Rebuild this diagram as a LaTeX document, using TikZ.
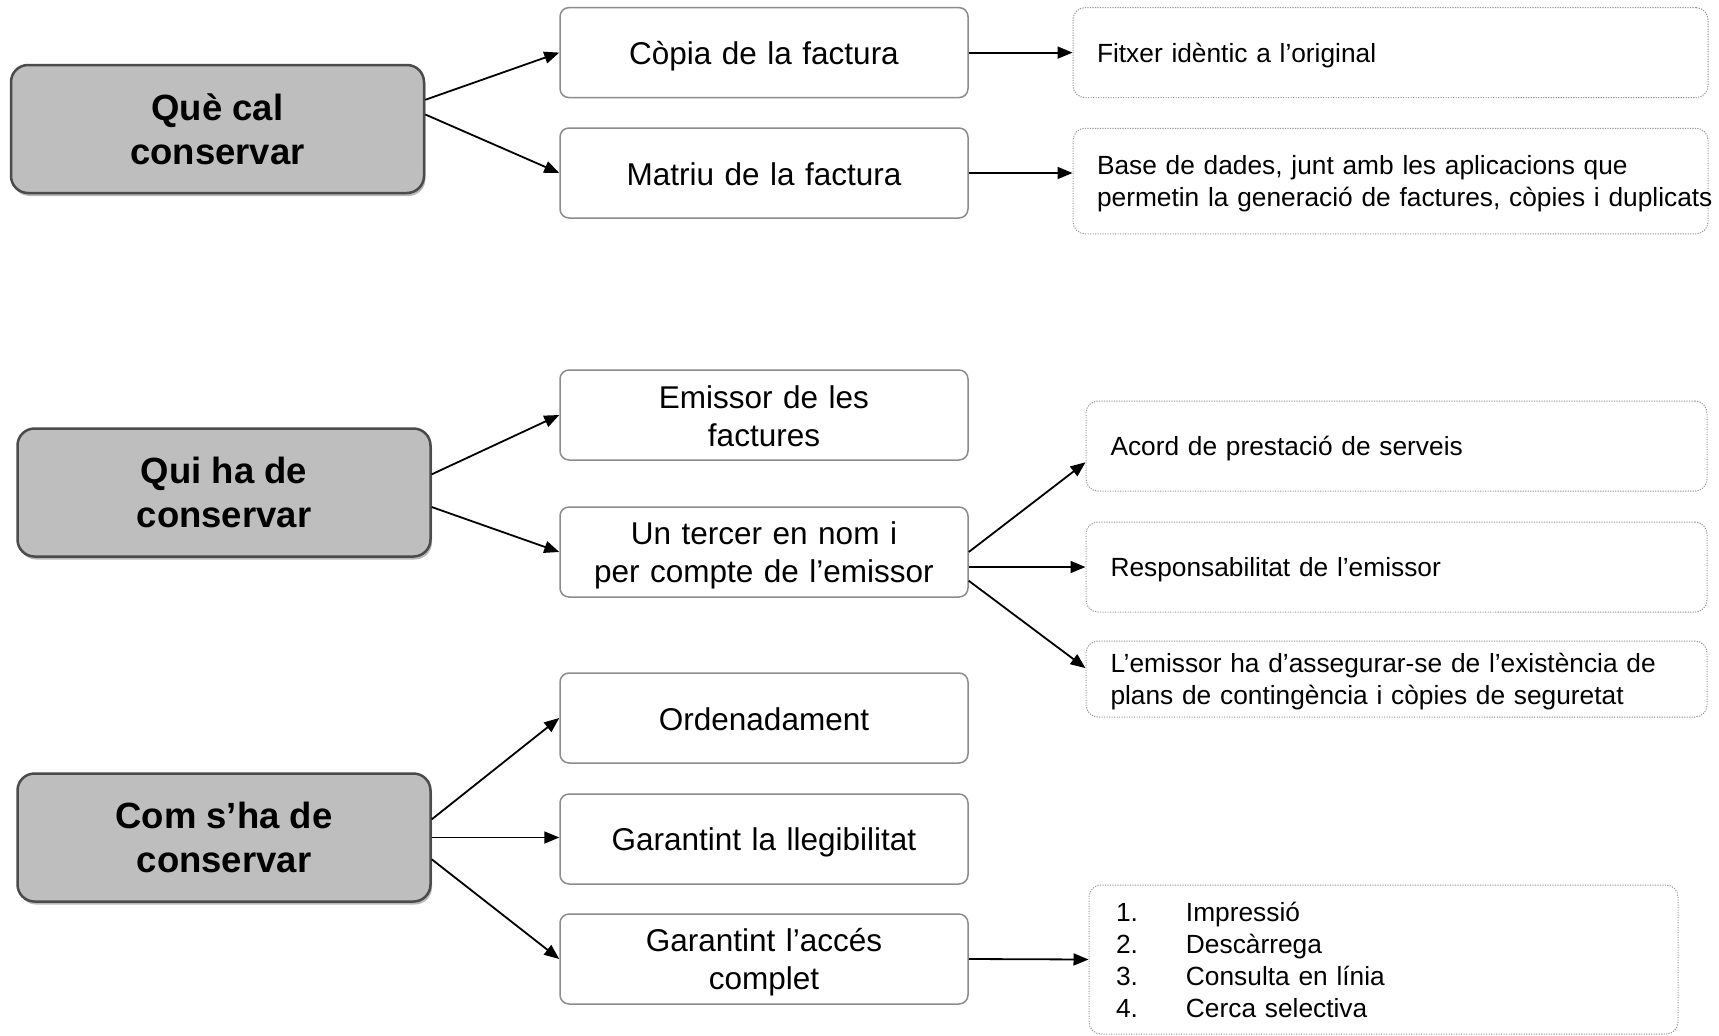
\documentclass[tikz,border=0pt]{standalone}
\usepackage{fontspec}
\setmainfont{Liberation Sans}
\usetikzlibrary{arrows.meta,shadows}

\definecolor{keyfill}{RGB}{190,190,190}
\definecolor{keyedge}{RGB}{75,75,75}
\definecolor{midedge}{RGB}{140,140,140}
\definecolor{dotedge}{RGB}{150,150,150}

\begin{document}
\begin{tikzpicture}[x=1pt,y=-1pt,
    key/.style={draw=keyedge, line width=2.5pt, fill=keyfill, rounded corners=17pt,
      minimum width=413pt, minimum height=128pt, align=center,
      font=\fontsize{36.5}{44}\selectfont\bfseries,
      drop shadow={shadow xshift=1.5pt, shadow yshift=-3pt, fill=black!55}},
    item/.style={draw=midedge, line width=1.5pt, fill=white, rounded corners=9pt,
      minimum width=408pt, minimum height=90pt, text width=380pt, align=center,
      font=\fontsize{31.5}{38.4}\selectfont,
      execute at begin node={\rule{0pt}{30pt}},
      execute at end node={\rule[-5.2pt]{0pt}{5.2pt}}},
    note/.style={draw=dotedge, line width=1pt, dash pattern=on 1.2pt off 1.3pt,
      rounded corners=12pt, minimum height=90pt, inner xsep=0pt, align=left,
      font=\fontsize{26.3}{31.8}\selectfont,
      execute at begin node={\rule{0pt}{25pt}},
      execute at end node={\rule[-4.8pt]{0pt}{4.8pt}}},
    link/.style={line width=1.8pt, -{Triangle[length=15pt,width=12pt]}}]
  \useasboundingbox (0,0) rectangle (1719,1036);

  \node[key] (what) at (217.5,129) {Què cal\\conservar};
  \node[key] (who) at (224,492.5) {Qui ha de\\conservar};
  \node[key] (how) at (224,837.5) {Com s’ha de\\conservar};

  \node[item] (copy) at (764,52.6) {Còpia de la factura};
  \node[item] (stub) at (764,173) {Matriu de la factura};
  \node[item] (issuer) at (764,415) {Emissor de les\\factures};
  \node[item] (third) at (764,552) {Un tercer en nom i\\per compte de l’emissor};
  \node[item] (order) at (764,718) {Ordenadament};
  \node[item] (legible) at (764,839) {Garantint la llegibilitat};
  \node[item] (access) at (764,959) {Garantint l’accés\\complet};

  \node[note, minimum width=635pt, text width=587pt] (file) at (1390.5,52.6)
    {Fitxer idèntic a l’original};
  \node[note, minimum width=635pt, text width=587pt, minimum height=105.5pt] (base) at (1390.5,181)
    {Base de dades, junt amb les aplicacions que\\\mbox{permetin la generació de factures, còpies i duplicats}};
  \node[note, minimum width=621pt, text width=572pt] (deal) at (1396.5,446)
    {Acord de prestació de serveis};
  \node[note, minimum width=621pt, text width=572pt] (duty) at (1396.5,567)
    {Responsabilitat de l’emissor};
  \node[note, minimum width=621pt, text width=572pt, minimum height=76pt] (plans) at (1396.5,679)
    {L’emissor ha d’assegurar-se de l’existència de\\plans de contingència i còpies de seguretat};
  \node[note, minimum width=589pt, text width=535pt, minimum height=149pt] (ways) at (1383.5,959.5)
    {\makebox[70pt][l]{1.}Impressió\\\makebox[70pt][l]{2.}Descàrrega\\
     \makebox[70pt][l]{3.}Consulta en línia\\\makebox[70pt][l]{4.}Cerca selectiva};

  \draw[link] (what.8.5) -- (copy.west);
  \draw[link] (what.4.4) -- (stub.west);
  \draw[link] (who.5.8) -- (issuer.west);
  \draw[link] (who.-4.2) -- (third.west);
  \draw[link] (how.5.7) -- (order.west);
  \draw[link] (how.east) -- (how.east -| legible.west);
  \draw[link] (how.-6.4) -- (access.west);

  \draw[link] (copy.east) -- (file.west);
  \draw[link] (stub.east) -- (stub.east -| base.west);
  \draw[link] (third.east) -- (deal.183);
  \draw[link] (third.east |- duty.west) -- (duty.west);
  \draw[link] (third.-8.6) -- (plans.178.5);
  \draw[link] (access.east) -- (ways.west);
\end{tikzpicture}
\end{document}
